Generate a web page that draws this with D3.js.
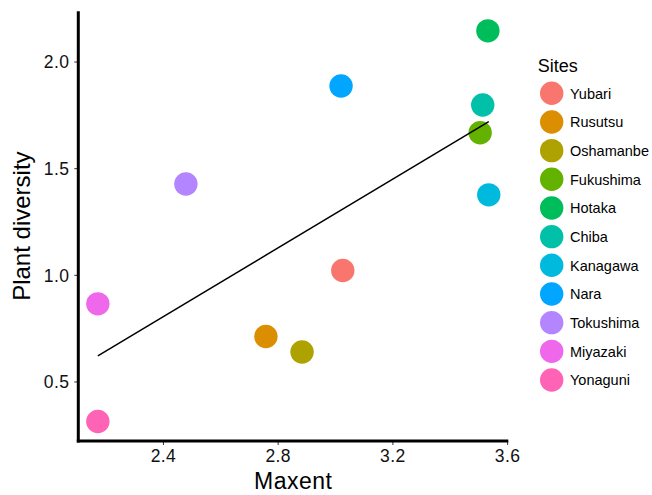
<!DOCTYPE html>
<html>
<head>
<meta charset="utf-8">
<script src="https://cdn.jsdelivr.net/npm/d3@7/dist/d3.min.js"></script>
<style>
  html, body { margin: 0; padding: 0; background: #fff; }
  svg { display: block; font-family: "Liberation Sans", Arial, Helvetica, sans-serif; }
</style>
</head>
<body>
<svg id="chart" width="652" height="495"></svg>
<script>
const sites = ["Yubari","Rusutsu","Oshamanbe","Fukushima","Hotaka","Chiba","Kanagawa","Nara","Tokushima","Miyazaki","Yonaguni"];
const maxent = [3.027, 2.759, 2.885, 3.506, 3.533, 3.515, 3.536, 3.021, 2.480, 2.173, 2.173];
const diversity = [1.020, 0.711, 0.638, 1.666, 2.144, 1.796, 1.375, 1.885, 1.426, 0.864, 0.3125];
const colors = ["#F8766D","#DB8E00","#AEA200","#64B200","#00BD5C","#00C1A7","#00BADE","#00A6FF","#B385FF","#EF67EB","#FF63B6"];
const xTicks = [2.4, 2.8, 3.2, 3.6];
const yTicks = [0.5, 1.0, 1.5, 2.0];

const data = sites.map((s, i) => ({ site: s, x: maxent[i], y: diversity[i], color: colors[i] }));

const svg = d3.select("#chart");
const panel = { left: 78.3, right: 508.3, top: 11.3, bottom: 441 };

function expand(ext) { const r = ext[1] - ext[0]; return [ext[0] - 0.05 * r, ext[1] + 0.05 * r]; }
const x = d3.scaleLinear().domain(expand(d3.extent(maxent))).range([panel.left, panel.right]);
const y = d3.scaleLinear().domain(expand(d3.extent(diversity))).range([panel.bottom, panel.top]);

// Points
svg.append("g").selectAll("circle").data(data).join("circle")
  .attr("cx", d => x(d.x)).attr("cy", d => y(d.y)).attr("r", 11.7)
  .attr("fill", d => d.color);

// Linear regression (lm) line
const mx = d3.mean(maxent), my = d3.mean(diversity);
const sxy = d3.sum(maxent.map((v, i) => (v - mx) * (diversity[i] - my)));
const sxx = d3.sum(maxent.map(v => (v - mx) * (v - mx)));
const slope = sxy / sxx, intercept = my - slope * mx;
const [x0, x1] = d3.extent(maxent);
svg.append("path")
  .datum([[x0, intercept + slope * x0], [x1, intercept + slope * x1]])
  .attr("d", d3.line().x(d => x(d[0])).y(d => y(d[1])))
  .attr("fill", "none").attr("stroke", "#000").attr("stroke-width", 1.5);

// Axes
const xAxis = svg.append("g").attr("transform", `translate(0,${panel.bottom})`)
  .call(d3.axisBottom(x).tickValues(xTicks).tickFormat(d3.format(".1f")).tickSize(4).tickPadding(5));
const yAxis = svg.append("g").attr("transform", `translate(${panel.left},0)`)
  .call(d3.axisLeft(y).tickValues(yTicks).tickFormat(d3.format(".1f")).tickSize(4).tickPadding(5));
[xAxis, yAxis].forEach(g => {
  g.select(".domain").remove();
  g.selectAll(".tick line").attr("stroke", "#333").attr("stroke-width", 1);
  g.selectAll(".tick text").attr("fill", "#111").style("font-size", "17.5px").style("letter-spacing", "0.4px")
    .style("font-family", "'Liberation Sans', Arial, sans-serif");
});
xAxis.selectAll(".tick text").attr("dy", "0.71em");
yAxis.selectAll(".tick text").attr("dy", "0.36em");

// Axis lines (drawn over ticks)
svg.append("line").attr("x1", panel.left - 1.5).attr("x2", panel.right).attr("y1", panel.bottom).attr("y2", panel.bottom)
  .attr("stroke", "#000").attr("stroke-width", 3);
svg.append("line").attr("x1", panel.left).attr("x2", panel.left).attr("y1", panel.top).attr("y2", panel.bottom + 1.5)
  .attr("stroke", "#000").attr("stroke-width", 3);

// Axis titles
svg.append("text").attr("x", (panel.left + panel.right) / 2).attr("y", 489)
  .attr("text-anchor", "middle").style("font-size", "23px").style("letter-spacing", "0.5px").attr("fill", "#000").text("Maxent");
svg.append("text").attr("transform", `translate(30,${(panel.top + panel.bottom) / 2}) rotate(-90)`)
  .attr("text-anchor", "middle").style("font-size", "24px").attr("fill", "#000").text("Plant diversity");

// Legend
const legend = svg.append("g");
legend.append("text").attr("x", 537.7).attr("y", 71.7).style("font-size", "18px").attr("fill", "#000").text("Sites");
const item = legend.selectAll("g.item").data(data).join("g").attr("class", "item")
  .attr("transform", (d, i) => `translate(0,${93.3 + i * 28.67})`);
item.append("circle").attr("cx", 551.7).attr("cy", 0).attr("r", 11.7).attr("fill", d => d.color);
item.append("text").attr("x", 570).attr("y", 5.2).style("font-size", "14.5px").attr("fill", "#000").text(d => d.site);
</script>
</body>
</html>
